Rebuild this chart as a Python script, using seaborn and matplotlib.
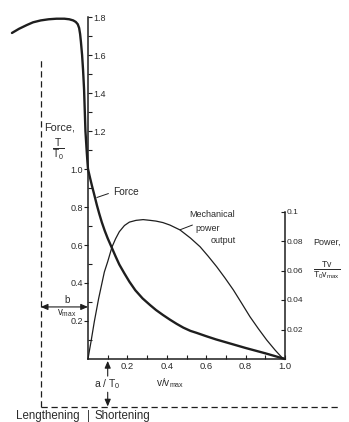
import matplotlib
matplotlib.use("Agg")
import matplotlib.pyplot as plt
import seaborn as sns
import numpy as np
import pandas as pd

# ---------------- data ----------------
# relative velocity v/vmax (negative = lengthening) and relative force T/T0
v_force = [-0.386, -0.35, -0.31, -0.279, -0.24, -0.20, -0.16, -0.12, -0.095,
           -0.075, -0.062, -0.052, -0.045, -0.040, -0.036, -0.030, -0.025,
           -0.020, -0.013, -0.007, -0.003, 0.0,
           0.01, 0.02, 0.03, 0.045, 0.057, 0.07, 0.085, 0.10, 0.122, 0.14, 0.159,
           0.185, 0.21, 0.24, 0.277, 0.315, 0.345, 0.38, 0.416, 0.45, 0.484,
           0.52, 0.55, 0.60, 0.65, 0.70, 0.75, 0.80, 0.85, 0.90, 0.95, 1.0]
force = [1.716, 1.738, 1.758, 1.772, 1.782, 1.788, 1.791, 1.791, 1.788,
         1.782, 1.774, 1.762, 1.742, 1.71, 1.67, 1.60, 1.52,
         1.42, 1.20, 1.10, 1.04, 1.0,
         0.955, 0.912, 0.872, 0.81, 0.765, 0.72, 0.675, 0.635, 0.583, 0.54, 0.497,
         0.45, 0.407, 0.362, 0.319, 0.284, 0.258, 0.232, 0.207, 0.185, 0.165,
         0.148, 0.138, 0.12, 0.103, 0.088, 0.073, 0.058, 0.044, 0.03, 0.015, 0.0]

# mechanical power output Tv/(T0 vmax)
v_power = [0.0, 0.005, 0.0152, 0.032, 0.054, 0.083, 0.10, 0.122, 0.14, 0.159,
           0.185, 0.21, 0.244, 0.28, 0.315, 0.345, 0.38, 0.416, 0.467, 0.52,
           0.569, 0.61, 0.653, 0.695, 0.738, 0.78, 0.822, 0.865, 0.907, 0.95,
           0.983, 1.0]
power = [0.0, 0.004, 0.0117, 0.0253, 0.041, 0.059, 0.066, 0.076, 0.0815, 0.0863,
         0.0905, 0.0928, 0.094, 0.0945, 0.094, 0.0935, 0.0925, 0.0908, 0.0875, 0.082,
         0.0761, 0.0697, 0.0626, 0.055, 0.0468, 0.0378, 0.0287, 0.0205, 0.0129, 0.006,
         0.0012, 0.0]

# hyperbola asymptotes
b_over_vmax = 0.24
a_over_T0 = 0.255
asym_top = 1.585
asym_right = 1.27

force_low_ticks = [0.2, 0.4, 0.6, 0.8, 1.0]
force_low_labels = ["0.2", "0.4", "0.6", "0.8", "1.0"]
force_low_minor = [0.1, 0.3, 0.5, 0.7, 0.9]
force_high_ticks = [1.2, 1.4, 1.6, 1.8]
force_high_labels = ["1.2", "1.4", "1.6", "1.8"]
force_high_minor = [1.1, 1.3, 1.5, 1.7]
v_ticks = [0.2, 0.4, 0.6, 0.8, 1.0]
v_labels = ["0.2", "0.4", "0.6", "0.8", "1.0"]
v_minor = [0.1, 0.3, 0.5, 0.7, 0.9]
power_ticks = [0.02, 0.04, 0.06, 0.08, 0.1]
power_labels = ["0.02", "0.04", "0.06", "0.08", "0.1"]

# ---------------- styling ----------------
sns.set_theme(style="white")
plt.rcParams["font.family"] = ["Liberation Sans", "DejaVu Sans"]
plt.rcParams["mathtext.fontset"] = "custom"
plt.rcParams["mathtext.rm"] = "Liberation Sans"
plt.rcParams["mathtext.it"] = "Liberation Sans"
plt.rcParams["mathtext.bf"] = "Liberation Sans:bold"

INK = "#1e1e1e"
TXT = "#2a2a2a"
TICK_FS = 6.5
LAB_FS = 7.8

fig = plt.figure(figsize=(3.49, 4.22), dpi=100)
ax = fig.add_axes([0, 0, 1, 1])
xlim = (-88 / 197, (349 - 88) / 197)
ylim = ((359 - 422) / 190, 359 / 190)
ax.set_xlim(*xlim)
ax.set_ylim(*ylim)
ax.set_facecolor("white")

df_f = pd.DataFrame({"v": v_force, "F": force})
sns.lineplot(data=df_f, x="v", y="F", ax=ax, color=INK, lw=1.7, sort=False,
             estimator=None)

# power axis
scale = 0.1 / (147.5 / 190)
ax2 = ax.twinx()
ax2.set_ylim(ylim[0] * scale, ylim[1] * scale)
df_p = pd.DataFrame({"v": v_power, "P": power})
sns.lineplot(data=df_p, x="v", y="P", ax=ax2, color=INK, lw=0.9, sort=False,
             estimator=None)
ax2.set_xlim(*xlim)

# upper force scale (labels on the right side of the force axis)
ax3 = ax.twinx()
ax3.set_ylim(*ylim)
ax3.set_xlim(*xlim)

for a in (ax, ax2, ax3):
    a.set_xlabel("")
    a.set_ylabel("")
    a.grid(False)
    for s in a.spines.values():
        s.set_visible(False)
        s.set_color(INK)
        s.set_linewidth(1.1)

# main axes spines
ax.spines["left"].set_visible(True)
ax.spines["left"].set_position(("data", 0))
ax.spines["left"].set_bounds(0, 1.0)
ax.spines["bottom"].set_visible(True)
ax.spines["bottom"].set_position(("data", 0))
ax.spines["bottom"].set_bounds(0, 1.0)

ax.set_xticks(v_ticks, v_labels, fontsize=TICK_FS + 0.3, color=TXT)
ax.set_xticks(v_minor, minor=True)
ax.tick_params(axis="x", which="both", direction="in", length=3.2, width=0.8,
               color=INK, pad=2, bottom=True)
ax.set_yticks(force_low_ticks, force_low_labels, fontsize=TICK_FS, color=TXT)
ax.set_yticks(force_low_minor, minor=True)
ax.tick_params(axis="y", which="major", direction="out", length=3, width=0.8,
               color=INK, pad=0.5, left=True)
ax.tick_params(axis="y", which="minor", direction="in", length=3, width=0.8,
               color=INK, left=True)

ax3.spines["right"].set_visible(True)
ax3.spines["right"].set_position(("data", 0))
ax3.spines["right"].set_bounds(1.0, 1.8)
ax3.set_yticks(force_high_ticks, force_high_labels, fontsize=TICK_FS, color=TXT)
ax3.set_yticks(force_high_minor, minor=True)
ax3.tick_params(axis="y", which="both", direction="out", length=3, width=0.8,
                color=INK, pad=0.5, right=True)

ax2.spines["right"].set_visible(True)
ax2.spines["right"].set_position(("data", 1.0))
ax2.spines["right"].set_bounds(0, 0.1)
ax2.set_yticks(power_ticks, power_labels, fontsize=TICK_FS - 0.5, color=TXT)
ax2.tick_params(axis="y", which="major", direction="in", length=3, width=0.8,
                color=INK, pad=1, right=True)

# asymptotes
ax.vlines(-b_over_vmax, -a_over_T0, asym_top, colors=INK, lw=0.9,
          linestyles=(0, (5, 3)))
ax.hlines(-a_over_T0, -b_over_vmax, asym_right, colors=INK, lw=0.9,
          linestyles=(0, (5, 3)))

# b/vmax arrow
ax.annotate("", xy=(-b_over_vmax, 0.274), xytext=(0, 0.274),
            arrowprops=dict(arrowstyle="<|-|>,head_length=0.35,head_width=0.15",
                            color=INK, lw=0.8, shrinkA=0, shrinkB=0))
ax.text(-0.107, 0.308, "b", fontsize=7, ha="center", va="center", color=TXT)
ax.text(-0.107, 0.243, r"v$_{max}$", fontsize=7, ha="center", va="center",
        color=TXT)

# a/T0 arrows
ax.annotate("", xy=(0.1, -0.01), xytext=(0.1, -0.09),
            arrowprops=dict(arrowstyle="-|>,head_length=0.35,head_width=0.15",
                            color=INK, lw=0.8, shrinkA=0, shrinkB=0))
ax.annotate("", xy=(0.1, -a_over_T0 + 0.005), xytext=(0.1, -0.175),
            arrowprops=dict(arrowstyle="-|>,head_length=0.35,head_width=0.15",
                            color=INK, lw=0.8, shrinkA=0, shrinkB=0))
ax.text(0.1, -0.132, r"a / T$_0$", fontsize=LAB_FS - 0.3, ha="center",
        va="center", color=TXT)

# axis labels
ax.text(0.416, -0.126, r"v/v$_{max}$", fontsize=LAB_FS - 0.5, ha="center",
        va="center", color=TXT)
ax.text(-0.225, 1.216, "Force,", fontsize=LAB_FS, ha="left", va="center",
        color=TXT)
ax.text(-0.152, 1.10, r"$\frac{T}{T_0}$", fontsize=10.5, ha="center",
        va="center", color=TXT)
ax.text(1.142, 0.616, "Power,", fontsize=6.5, ha="left", va="center",
        color=TXT)
ax.text(1.14, 0.468, r"$\frac{Tv}{T_0v_{max}}$", fontsize=9, ha="left",
        va="center", color=TXT)

# curve labels
ax.annotate("Force", xy=(0.045, 0.85), xytext=(0.127, 0.879), fontsize=LAB_FS - 0.5,
            ha="left", va="center", color=TXT,
            arrowprops=dict(arrowstyle="-", color=INK, lw=0.7, shrinkA=1,
                            shrinkB=0, relpos=(0, 0.5)))
ax.text(0.63, 0.758, "Mechanical", fontsize=6.5, ha="center", va="center",
        color=TXT)
ax.text(0.609, 0.689, "power", fontsize=6.5, ha="center", va="center",
        color=TXT)
ax.text(0.685, 0.626, "output", fontsize=6.5, ha="center", va="center",
        color=TXT)
ax.annotate("", xy=(0.467, 0.68), xytext=(0.53, 0.705),
            arrowprops=dict(arrowstyle="-", color=INK, lw=0.7, shrinkA=0,
                            shrinkB=0))

# lengthening / shortening
ax.text(-0.04, -0.30, "Lengthening", fontsize=8.3, ha="right", va="center",
        color=TXT)
ax.text(0.0, -0.30, "|", fontsize=8.3, ha="center", va="center", color=TXT)
ax.text(0.035, -0.30, "Shortening", fontsize=8.3, ha="left", va="center",
        color=TXT)

fig.savefig("out.png", dpi=100, facecolor="white")
